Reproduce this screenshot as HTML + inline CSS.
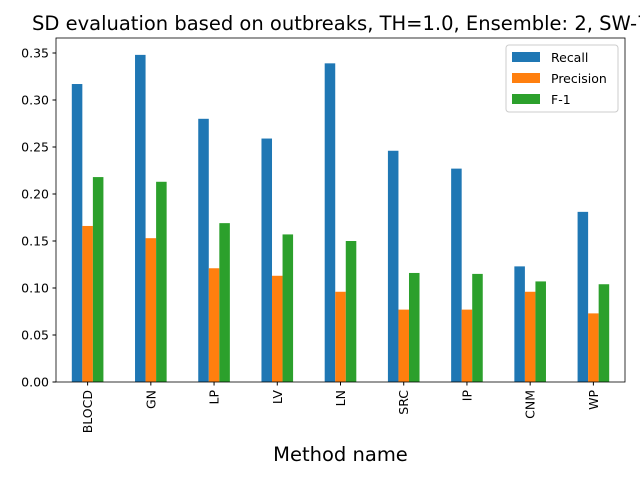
<!DOCTYPE html>
<html><head><meta charset="utf-8"><style>
body{margin:0;background:#fff;}
svg{display:block;font-family:"DejaVu Sans","Liberation Sans",sans-serif;}
</style></head><body>
<svg id="chart" width="640" height="480" viewBox="0 0 640 480">
<text x="32" y="30" font-size="19.5" fill="#000">SD evaluation based on outbreaks, TH=1.0, Ensemble: 2, SW-7</text>
<g id="bars"></g>
<g id="axes"></g>
<rect x="56" y="38" width="569" height="344" fill="none" stroke="#000" stroke-width="0.8"/>
<text x="340.5" y="461" font-size="19.5" text-anchor="middle">Method name</text>
<g>
<rect x="506" y="45" width="112" height="67" rx="3" fill="#fff" fill-opacity="0.8" stroke="#ccc"/>
<rect x="512" y="52" width="28" height="10" fill="#1f77b4"/>
<text x="551" y="62" font-size="12.5">Recall</text>
<rect x="512" y="73" width="28" height="10" fill="#ff7f0e"/>
<text x="551" y="83" font-size="12.5">Precision</text>
<rect x="512" y="94" width="28" height="10" fill="#2ca02c"/>
<text x="551" y="104" font-size="12.5">F-1</text>
</g>
</svg>
<script>
const categories=["BLOCD","GN","LP","LV","LN","SRC","IP","CNM","WP"];
const recall=[0.317,0.348,0.280,0.259,0.339,0.246,0.227,0.123,0.181];
const precision=[0.166,0.153,0.121,0.113,0.096,0.077,0.077,0.096,0.073];
const f1=[0.218,0.213,0.169,0.157,0.150,0.116,0.115,0.107,0.104];
const yTicks=[0,0.05,0.10,0.15,0.20,0.25,0.30,0.35];
const seriesNames=["recall","precision","f1"];

const NS="http://www.w3.org/2000/svg";
const X0=56,X1=625,Y0=382;
const yScale=v=>Y0-v*940;
const step=(X1-X0)/categories.length;
const xCenter=i=>X0+step*(i+0.5);
const bw=step/6;
const colors=["#1f77b4","#ff7f0e","#2ca02c"];
const bars=document.getElementById('bars');
const axes=document.getElementById('axes');
[recall,precision,f1].forEach((s,si)=>{
  s.forEach((v,i)=>{
    const r=document.createElementNS(NS,'rect');
    r.setAttribute('x',xCenter(i)+(si-1.5)*bw);
    r.setAttribute('y',yScale(v));
    r.setAttribute('width',bw);
    r.setAttribute('height',Y0-yScale(v));
    r.setAttribute('fill',colors[si]);
    
    
    bars.appendChild(r);
  });
});
yTicks.forEach(t=>{
  const y=yScale(t);
  const l=document.createElementNS(NS,'line');
  l.setAttribute('x1',X0-3.5);l.setAttribute('x2',X0);l.setAttribute('y1',y);l.setAttribute('y2',y);l.setAttribute('stroke','#000');
  
  
  axes.appendChild(l);
  const tx=document.createElementNS(NS,'text');
  tx.setAttribute('x',X0-7);tx.setAttribute('y',y+4.5);tx.setAttribute('font-size','12.5');tx.setAttribute('text-anchor','end');
  tx.textContent=t.toFixed(2);
  
  
  axes.appendChild(tx);
});
categories.forEach((c,i)=>{
  const x=xCenter(i);
  const l=document.createElementNS(NS,'line');
  l.setAttribute('x1',x);l.setAttribute('x2',x);l.setAttribute('y1',Y0);l.setAttribute('y2',Y0+3.5);l.setAttribute('stroke','#000');
  
  
  axes.appendChild(l);
  const tx=document.createElementNS(NS,'text');
  tx.setAttribute('transform','translate('+(x+4.5)+','+(Y0+8)+') rotate(-90)');
  tx.setAttribute('font-size','12.5');tx.setAttribute('text-anchor','end');
  tx.textContent=c;
  
  
  axes.appendChild(tx);
});
</script>
</body></html>
